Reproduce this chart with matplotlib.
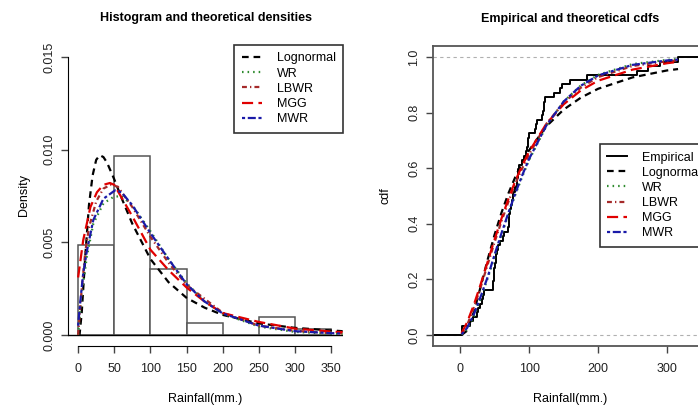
import numpy as np
import matplotlib
matplotlib.use("Agg")
import matplotlib.pyplot as plt

plt.rcParams['font.family'] = ['Liberation Sans', 'DejaVu Sans']

# observed monthly rainfall sample (read from the empirical cdf steps)
rain = [2.0, 3.0, 14, 19, 24, 26, 29, 31, 33, 35,
        47, 47.8, 48.5, 49, 49.6, 51, 52, 52.5, 53, 55,
        58, 62, 64, 70, 70.3, 70.6, 71, 71.5, 73, 75,
        76, 77, 80, 82, 83, 84, 84.5, 85, 90, 92,
        96, 97, 98, 99, 99.5, 109, 110, 112, 119, 120,
        121, 122, 123, 136, 145, 148, 159, 184, 256, 272,
        290, 316]
bins = [0, 50, 100, 150, 200, 250, 300, 350]

# fitted densities
x_ln = [0, 2, 5, 10, 15, 20, 25, 30, 35, 40, 50, 60, 75, 100, 125, 150, 175, 200, 250, 300, 350, 366]
d_ln = [0, 0.00001, 0.0012, 0.0043, 0.0070, 0.0086, 0.00945, 0.0097, 0.0096, 0.0093, 0.0084, 0.0074,
        0.0060, 0.0041, 0.00285, 0.0020, 0.00147, 0.00108, 0.00062, 0.00038, 0.00024, 0.0002]
x_wr = [0, 5, 12, 21, 35, 49, 60, 75, 100, 125, 150, 175, 200, 250, 300, 350, 366]
d_wr = [0, 0.0022, 0.0042, 0.0060, 0.0071, 0.00745, 0.0075, 0.0070, 0.0056, 0.0041, 0.0028, 0.0018,
        0.00115, 0.00045, 0.00016, 0.00006, 0.00005]
x_lb = [0, 5, 10, 15, 25, 35, 45, 55, 75, 100, 125, 150, 200, 250, 300, 350, 366]
d_lb = [0, 0.0025, 0.0045, 0.0058, 0.0072, 0.0079, 0.0081, 0.0080, 0.0069, 0.0053, 0.0039, 0.0027,
        0.0012, 0.0005, 0.00022, 0.0001, 0.00008]
x_mgg = [0, 7, 17, 26, 35, 44, 50, 75, 100, 125, 150, 175, 200, 250, 300, 350, 366]
d_mgg = [0.0031, 0.0051, 0.0069, 0.0077, 0.0081, 0.0082, 0.0081, 0.0064, 0.0046, 0.0035, 0.00256,
         0.0018, 0.00118, 0.0007, 0.00034, 0.00018, 0.00015]
x_mwr = [0, 3, 7, 12, 21, 35, 51, 60, 75, 100, 125, 150, 175, 200, 250, 300, 350, 366]
d_mwr = [0.0005, 0.0018, 0.0033, 0.0045, 0.0062, 0.00735, 0.0078, 0.0077, 0.0070, 0.0055, 0.0041,
         0.00274, 0.0018, 0.00116, 0.0005, 0.0002, 0.00009, 0.00007]

# fitted cdfs
x_cdf = [2, 10, 20, 30, 40, 50, 60, 70, 80, 90, 100, 125, 150, 175, 200, 250, 300, 316]
c_ln = [0.0, 0.015, 0.084, 0.177, 0.273, 0.362, 0.441, 0.51, 0.569, 0.62, 0.665, 0.751, 0.811,
        0.854, 0.886, 0.927, 0.952, 0.957]
c_wr = [0.001, 0.02, 0.068, 0.133, 0.205, 0.283, 0.36, 0.435, 0.505, 0.57, 0.63, 0.752, 0.84,
        0.898, 0.936, 0.975, 0.99, 0.993]
c_lb = [0.003, 0.035, 0.1, 0.175, 0.255, 0.335, 0.41, 0.48, 0.545, 0.6, 0.65, 0.76, 0.835,
        0.89, 0.928, 0.968, 0.985, 0.988]
c_mgg = [0.007, 0.045, 0.11, 0.185, 0.265, 0.345, 0.42, 0.49, 0.555, 0.61, 0.66, 0.76, 0.83,
         0.88, 0.915, 0.955, 0.978, 0.983]
c_mwr = [0.002, 0.025, 0.075, 0.14, 0.21, 0.29, 0.367, 0.44, 0.51, 0.575, 0.634, 0.754, 0.84,
         0.897, 0.934, 0.972, 0.988, 0.991]

names = ['Lognormal', 'WR', 'LBWR', 'MGG', 'MWR']
colors = ['black', '#2e8b2e', '#a52a2a', '#e00000', '#1a1aa8']
dashes = [(3, 2.2), (0.7, 1.8), (2.2, 1.4, 0.6, 1.4), (5, 2.4), (1.4, 1.2, 3.6, 1.2)]
lw = 1.6
fs = 9

fig = plt.figure(figsize=(6.98, 4.08), dpi=100)

# ---- left: histogram and densities
ax1 = fig.add_axes([68 / 698, 1 - 346 / 408, 275 / 698, 301 / 408])
ax1.hist(rain, bins=bins, density=True, facecolor='white', edgecolor='#555555', linewidth=1.1)
ax1.axhline(0, color='black', lw=1)
dens = [(x_ln, d_ln), (x_wr, d_wr), (x_lb, d_lb), (x_mgg, d_mgg), (x_mwr, d_mwr)]
for (xx, yy), nm, c, ds in zip(dens, names, colors, dashes):
    ax1.plot(xx, yy, color=c, lw=lw, dashes=ds, label=nm)
ax1.set_xlim(-14, 366.5)
ax1.set_ylim(-0.0006, 0.01565)
ax1.set_xticks(range(0, 351, 50))
ax1.set_yticks([0, 0.005, 0.010, 0.015])
ax1.set_yticklabels(['0.000', '0.005', '0.010', '0.015'], rotation=90, va='center')
for s in ['top', 'right']:
    ax1.spines[s].set_visible(False)
ax1.spines['left'].set_bounds(0, 0.015)
ax1.spines['bottom'].set_bounds(0, 350)
ax1.set_title('Histogram and theoretical densities', fontsize=fs, fontweight='bold', pad=17.5)
ax1.set_xlabel('Rainfall(mm.)', fontsize=fs, labelpad=13)
ax1.set_ylabel('Density', fontsize=fs, labelpad=10)
leg1 = ax1.legend(loc='upper right', borderaxespad=0, fontsize=fs, fancybox=False,
                  edgecolor='#333333', framealpha=1, handlelength=1.6, handletextpad=1.2,
                  labelspacing=0.25, borderpad=0.6)
leg1.get_frame().set_linewidth(1.2)

# ---- right: empirical and theoretical cdfs
ax2 = fig.add_axes([433 / 698, 1 - 346 / 408, 274 / 698, 300 / 408])
xlo, xhi = -39.5, 358
ax2.axhline(0, color='#b0b0b0', lw=0.8, dashes=(3, 3))
ax2.axhline(1, color='#b0b0b0', lw=0.8, dashes=(3, 3))
srt = sorted(rain)
n = len(srt)
ex = [xlo] + srt + [xhi]
ey = [0] + [(i + 1) / n for i in range(n)] + [1]
ax2.step(ex, ey, where='post', color='black', lw=1.4, label='Empirical')
cdfs = [c_ln, c_wr, c_lb, c_mgg, c_mwr]
for yy, nm, c, ds in zip(cdfs, names, colors, dashes):
    ax2.plot(x_cdf, yy, color=c, lw=lw, dashes=ds, label=nm)
ax2.set_xlim(xlo, xhi)
ax2.set_ylim(-0.04, 1.04)
ax2.set_xticks([0, 100, 200, 300])
ax2.set_yticks([0, 0.2, 0.4, 0.6, 0.8, 1.0])
ax2.set_yticklabels(['0.0', '0.2', '0.4', '0.6', '0.8', '1.0'], rotation=90, va='center')
for s in ax2.spines.values():
    s.set_color('#555555')
    s.set_linewidth(1.3)
ax2.set_title('Empirical and theoretical cdfs', fontsize=fs, fontweight='bold', pad=17.5)
ax2.set_xlabel('Rainfall(mm.)', fontsize=fs, labelpad=13)
ax2.set_ylabel('cdf', fontsize=fs, labelpad=12)
leg2 = ax2.legend(loc='upper left', bbox_to_anchor=(0.609, 0.673), borderaxespad=0, fontsize=fs,
                  fancybox=False, edgecolor='#333333', framealpha=1, handlelength=1.6,
                  handletextpad=1.2, labelspacing=0.25, borderpad=0.6)
leg2.get_frame().set_linewidth(1.2)

for ax in (ax1, ax2):
    ax.tick_params(direction='out', length=5, width=1, colors='#444444', labelcolor='#222222',
                   labelsize=fs)
    ax.tick_params(axis='x', pad=7)
    ax.tick_params(axis='y', pad=4)

fig.savefig('out.png', dpi=100)
